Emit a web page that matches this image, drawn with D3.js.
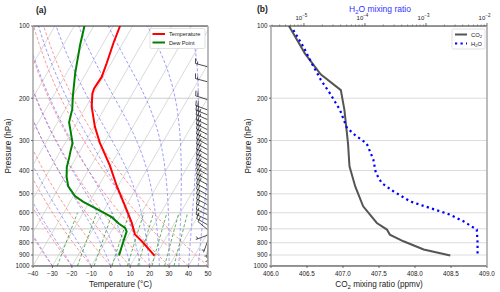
<!DOCTYPE html>
<html>
<head>
<meta charset="utf-8">
<script src="https://cdn.jsdelivr.net/npm/d3@7"></script>
<style>
  body { margin: 0; background: #fff; }
  svg text { font-family: "Liberation Sans", Arial, sans-serif; fill: #222; }
</style>
</head>
<body>
<svg id="chart" width="500" height="292"></svg>
<script>
// ---- data ----
const pressureTicks = [100, 200, 300, 400, 500, 600, 700, 800, 900, 1000];
const tempTicks = [-40, -30, -20, -10, 0, 10, 20, 30, 40, 50];
const co2Ticks = [406.0, 406.5, 407.0, 407.5, 408.0, 408.5, 409.0];
const h2oTicks = [1e-5, 1e-4, 1e-3, 1e-2];

// sounding (panel a)
const tempP = [100, 118, 143, 163, 182, 191, 217, 263, 308, 383, 464, 562, 660, 738, 800, 906];
const tempC = [-66.5, -64.8, -62.3, -60.8, -61.3, -60.7, -57.1, -49.5, -42, -30.1, -20.7, -10.5, -2.1, 3.0, 9.8, 19.4];
const dewP = [100, 120, 157, 197, 222, 252, 275, 308, 329, 351, 387, 425, 466, 511, 540, 582, 626, 667, 694, 718, 791, 904];
const dewC = [-84.8, -81.4, -75.6, -69.8, -66.4, -64.1, -60.6, -56.1, -55, -53.7, -52, -49.2, -45.5, -39.2, -33.2, -23.3, -14, -8.3, -3.9, -2.1, -0.8, 1.1];

// wind barbs (panel a): pressure, direction (deg), speed (kt)
const windP = [148, 171, 203, 224, 235, 246, 259, 271, 284, 298, 313, 328, 345, 362, 379, 398, 417, 438, 459, 482, 506, 531, 557, 584, 613, 643, 675, 708, 743, 780, 818, 858, 900];
const windDir = [285, 285, 288, 290, 292, 294, 295, 296, 297, 297, 298, 298, 298, 298, 298, 298, 298, 298, 298, 298, 298, 298, 298, 297, 296, 295, 300, 310, 250, 200, 185, 180, 175];
const windSpd = [15, 15, 20, 20, 25, 25, 25, 25, 25, 25, 25, 25, 25, 25, 25, 25, 25, 25, 25, 20, 20, 20, 20, 20, 15, 15, 10, 10, 5, 5, 5, 5, 5];

// background reference lines (panel a)
const dryAdiabatT0 = [-40, -30, -20, -10, 0, 10, 20, 30, 40, 50];
const moistAdiabatT0 = [-40, -30, -20, -10, 0, 5, 10, 15, 20, 25, 30, 35, 40, 45, 50];
const mixingRatios = [0.4, 1, 2, 4, 7, 10, 16, 24, 32]; // g/kg

// profiles (panel b)
const co2P = [100, 130, 159, 185, 224, 309, 384, 466, 564, 662, 705, 740, 789, 854, 905];
const co2Val = [406.25, 406.47, 406.69, 406.97, 407.02, 407.07, 407.09, 407.17, 407.28, 407.47, 407.61, 407.65, 407.84, 408.12, 408.49];
const h2oP = [104, 122, 143, 168, 191, 224, 264, 281, 309, 360, 410, 451, 488, 538, 573, 611, 651, 705, 802, 905];
const h2oVal = [6.7e-6, 9.8e-6, 1.34e-5, 1.9e-5, 2.67e-5, 3.9e-5, 5.0e-5, 6.4e-5, 1.07e-4, 1.37e-4, 1.51e-4, 1.88e-4, 2.91e-4, 5.5e-4, 1.16e-3, 2.47e-3, 4.1e-3, 6.8e-3, 7.0e-3, 7.0e-3];

// ---- layout ----
const plotTop = 26, plotBot = 266;
const aL = 33, aR = 208, bL = 271, bR = 487;
const skew = Math.tan(30 * Math.PI / 180);

const svg = d3.select("#chart");

const y = d3.scaleLog().domain([1000, 100]).range([plotBot, plotTop]);
const x = d3.scaleLinear().domain([-40, 50]).range([aL, aR]);
const sx = (t, p) => x(t) + skew * (plotBot - y(p));

svg.append("clipPath").attr("id", "clipA")
  .append("rect").attr("x", aL).attr("y", plotTop).attr("width", aR - aL).attr("height", plotBot - plotTop);
svg.append("clipPath").attr("id", "clipB")
  .append("rect").attr("x", bL).attr("y", plotTop).attr("width", bR - bL).attr("height", plotBot - plotTop);

// ================= panel (a) =================
const ga = svg.append("g").attr("clip-path", "url(#clipA)");

// horizontal grid
ga.selectAll("line.hgrid").data(pressureTicks).enter().append("line")
  .attr("x1", aL).attr("x2", aR).attr("y1", d => y(d)).attr("y2", d => y(d))
  .attr("stroke", "#c8c8c8").attr("stroke-width", 0.9);

// isotherms
ga.selectAll("line.iso").data(d3.range(-140, 51, 10)).enter().append("line")
  .attr("x1", d => sx(d, 1000)).attr("y1", plotBot)
  .attr("x2", d => sx(d, 100)).attr("y2", plotTop)
  .attr("stroke", "#c8c8c8").attr("stroke-width", 0.7);

const pLevels = d3.range(0, 61).map(i => 1000 * Math.pow(0.1, i / 60));
const lineP = d3.line().x(d => sx(d[0], d[1])).y(d => y(d[1]));

// dry adiabats
ga.selectAll("path.dry").data(dryAdiabatT0).enter().append("path")
  .attr("d", t0 => lineP(pLevels.map(p => [(t0 + 273.15) * Math.pow(p / 1000, 0.2857) - 273.15, p])))
  .attr("fill", "none").attr("stroke", "#ff7f7f").attr("stroke-width", 0.8)
  .attr("stroke-dasharray", "3,2");

// moist adiabats (integrate the saturated lapse rate)
const Rd = 287.04749, Cp = 1004.666, Lv = 2.50084e6, eps = 0.6219569;
function dTdp(p, T) {
  const tc = T - 273.15;
  const es = 6.112 * Math.exp(17.67 * tc / (tc + 243.5));
  const rs = eps * es / (p - es);
  return (Rd * T + Lv * rs) / (Cp + Lv * Lv * rs * eps / (Rd * T * T)) / p;
}
function moist(t0) {
  let T = t0 + 273.15, p = 1000, h = -5;
  const pts = [[t0, p]];
  while (p > 100) {
    const k1 = dTdp(p, T);
    const k2 = dTdp(p + h / 2, T + h / 2 * k1);
    const k3 = dTdp(p + h / 2, T + h / 2 * k2);
    const k4 = dTdp(p + h, T + h * k3);
    T += h / 6 * (k1 + 2 * k2 + 2 * k3 + k4);
    p += h;
    pts.push([T - 273.15, p]);
  }
  return pts;
}
ga.selectAll("path.moist").data(moistAdiabatT0).enter().append("path")
  .attr("d", t0 => lineP(moist(t0)))
  .attr("fill", "none").attr("stroke", "#7f7fff").attr("stroke-width", 0.8)
  .attr("stroke-dasharray", "3,2");

// mixing ratio lines
const mixP = d3.range(0, 21).map(i => 1000 - i * 20);
function dewFromW(w, p) {
  const e = p * w / (eps + w);
  const l = Math.log(e / 6.112);
  return 243.5 * l / (17.67 - l);
}
ga.selectAll("path.mix").data(mixingRatios).enter().append("path")
  .attr("d", w => lineP(mixP.map(p => [dewFromW(w / 1000, p), p])))
  .attr("fill", "none").attr("stroke", "#339933").attr("stroke-width", 0.8)
  .attr("stroke-dasharray", "3,2");

// temperature & dew point
ga.append("path").datum(d3.zip(tempC, tempP)).attr("d", lineP)
  .attr("fill", "none").attr("stroke", "#ff0000").attr("stroke-width", 2);
ga.append("path").datum(d3.zip(dewC, dewP)).attr("d", lineP)
  .attr("fill", "none").attr("stroke", "#008000").attr("stroke-width", 2);

// wind barbs anchored on the right edge
function barbPath(x0, y0, dir, spd) {
  const L = 13, F = 5, gap = 2.2;
  const r = dir * Math.PI / 180;
  const ux = Math.sin(r), uy = -Math.cos(r);
  const px = -uy, py = ux;
  const tx = x0 + L * ux, ty = y0 + L * uy;
  let s = `M${x0},${y0}L${tx},${ty}`;
  let rem = Math.round(spd / 5) * 5, pos = 0;
  if (rem === 5) pos = 1;
  while (rem >= 10) {
    const bx = tx - pos * gap * ux, by = ty - pos * gap * uy;
    s += `M${bx},${by}l${F * px + 0.25 * F * ux},${F * py + 0.25 * F * uy}`;
    rem -= 10; pos++;
  }
  if (rem >= 5) {
    const bx = tx - pos * gap * ux, by = ty - pos * gap * uy;
    s += `M${bx},${by}l${0.5 * F * px + 0.12 * F * ux},${0.5 * F * py + 0.12 * F * uy}`;
  }
  return s;
}
ga.selectAll("path.barb").data(windP).enter().append("path")
  .attr("d", (p, i) => barbPath(aR, y(p), windDir[i], windSpd[i]))
  .attr("fill", "none").attr("stroke", "#222").attr("stroke-width", 0.8);

// frame
function frame(x0, x1) {
  svg.append("line").attr("x1", x0).attr("x2", x1).attr("y1", plotTop).attr("y2", plotTop).attr("stroke", "#333").attr("stroke-width", 1);
  svg.append("line").attr("x1", x0).attr("x2", x1).attr("y1", plotBot).attr("y2", plotBot).attr("stroke", "#333").attr("stroke-width", 1);
  svg.append("line").attr("x1", x0).attr("x2", x0).attr("y1", plotTop).attr("y2", plotBot).attr("stroke", "#aaa").attr("stroke-width", 1.6);
  svg.append("line").attr("x1", x1).attr("x2", x1).attr("y1", plotTop).attr("y2", plotBot).attr("stroke", "#aaa").attr("stroke-width", 1.6);
}
frame(aL, aR);

function yTicks(x0) {
  const g = svg.append("g");
  g.selectAll("line").data(pressureTicks).enter().append("line")
    .attr("x1", x0 - 2).attr("x2", x0).attr("y1", d => y(d)).attr("y2", d => y(d))
    .attr("stroke", "#333").attr("stroke-width", 0.7);
  g.selectAll("text").data(pressureTicks).enter().append("text")
    .attr("x", x0 - 3.5).attr("y", d => y(d) + 2.3)
    .attr("text-anchor", "end").attr("font-size", 6.3).text(d => d);
}
yTicks(aL);

svg.append("g").selectAll("line").data(tempTicks).enter().append("line")
  .attr("x1", d => x(d)).attr("x2", d => x(d)).attr("y1", plotBot).attr("y2", plotBot + 2)
  .attr("stroke", "#333").attr("stroke-width", 0.7);
svg.append("g").selectAll("text").data(tempTicks).enter().append("text")
  .attr("x", d => x(d)).attr("y", 275.5).attr("text-anchor", "middle")
  .attr("font-size", 6.3).text(d => d < 0 ? "\u2212" + (-d) : d);

svg.append("text").attr("x", (aL + aR) / 2).attr("y", 286.5).attr("text-anchor", "middle")
  .attr("font-size", 8.2).text("Temperature (\u00b0C)");
svg.append("text").attr("transform", `translate(10.5,${(plotTop + plotBot) / 2}) rotate(-90)`)
  .attr("text-anchor", "middle").attr("font-size", 8.2).text("Pressure (hPa)");
svg.append("text").attr("x", 36).attr("y", 13).attr("font-size", 8.5).attr("font-weight", "bold").text("(a)");

// legend a
const la = svg.append("g");
la.append("rect").attr("x", 150).attr("y", 28.5).attr("width", 55).attr("height", 20).attr("rx", 1.5)
  .attr("fill", "#fff").attr("stroke", "#ccc").attr("stroke-width", 0.6);
la.append("line").attr("x1", 152.5).attr("x2", 165).attr("y1", 34).attr("y2", 34).attr("stroke", "#ff0000").attr("stroke-width", 2);
la.append("line").attr("x1", 152.5).attr("x2", 165).attr("y1", 42.5).attr("y2", 42.5).attr("stroke", "#008000").attr("stroke-width", 2);
la.append("text").attr("x", 169).attr("y", 36).attr("font-size", 5.6).text("Temperature");
la.append("text").attr("x", 169).attr("y", 44.5).attr("font-size", 5.6).text("Dew Point");

// ================= panel (b) =================
const xb = d3.scaleLinear().domain([406, 409]).range([bL, bR]);
const xt = d3.scaleLog().domain([Math.pow(10, -5.54), 1e-2]).range([bL, bR]);
const gb = svg.append("g").attr("clip-path", "url(#clipB)");

gb.selectAll("line.hgrid").data(pressureTicks).enter().append("line")
  .attr("x1", bL).attr("x2", bR).attr("y1", d => y(d)).attr("y2", d => y(d))
  .attr("stroke", "#d8d8d8").attr("stroke-width", 0.9);

gb.append("path").datum(d3.zip(co2Val, co2P))
  .attr("d", d3.line().x(d => xb(d[0])).y(d => y(d[1])))
  .attr("fill", "none").attr("stroke", "#555").attr("stroke-width", 2);
gb.append("path").datum(d3.zip(h2oVal, h2oP))
  .attr("d", d3.line().x(d => xt(d[0])).y(d => y(d[1])))
  .attr("fill", "none").attr("stroke", "#0000ff").attr("stroke-width", 2.2)
  .attr("stroke-dasharray", "2.2,3.3");

frame(bL, bR);
yTicks(bL);

svg.append("g").selectAll("line").data(co2Ticks).enter().append("line")
  .attr("x1", d => xb(d)).attr("x2", d => xb(d)).attr("y1", plotBot).attr("y2", plotBot + 2)
  .attr("stroke", "#333").attr("stroke-width", 0.7);
svg.append("g").selectAll("text").data(co2Ticks).enter().append("text")
  .attr("x", d => xb(d)).attr("y", 275.5).attr("text-anchor", "middle")
  .attr("font-size", 6.3).text(d => d.toFixed(1));

// top log axis
const minorTicks = [];
for (let e = -6; e < -2; e++) for (let m = 2; m <= 9; m++) {
  const v = m * Math.pow(10, e);
  if (v >= xt.domain()[0]) minorTicks.push(v);
}
svg.append("g").selectAll("line").data(minorTicks).enter().append("line")
  .attr("x1", d => xt(d)).attr("x2", d => xt(d)).attr("y1", plotTop).attr("y2", plotTop - 1.5)
  .attr("stroke", "#333").attr("stroke-width", 0.5);
svg.append("g").selectAll("line").data(h2oTicks).enter().append("line")
  .attr("x1", d => xt(d)).attr("x2", d => xt(d)).attr("y1", plotTop).attr("y2", plotTop - 3)
  .attr("stroke", "#333").attr("stroke-width", 0.7);
const tl = svg.append("g").selectAll("text").data(h2oTicks).enter().append("text")
  .attr("x", d => xt(d) - 2.5).attr("y", 20).attr("text-anchor", "middle").attr("font-size", 6);
tl.append("tspan").text("10");
tl.append("tspan").attr("dy", -3).attr("font-size", 4.5).text(d => "\u2212" + (-Math.round(Math.log10(d))));

const title = svg.append("text").attr("x", 380).attr("y", 12).attr("text-anchor", "middle")
  .attr("font-size", 8.5).style("fill", "#3333ff");
title.append("tspan").text("H");
title.append("tspan").attr("dy", 2).attr("font-size", 6).text("2");
title.append("tspan").attr("dy", -2).text("O mixing ratio");

const xl = svg.append("text").attr("x", (bL + bR) / 2).attr("y", 286.5).attr("text-anchor", "middle").attr("font-size", 8.2);
xl.append("tspan").text("CO");
xl.append("tspan").attr("dy", 2).attr("font-size", 6).text("2");
xl.append("tspan").attr("dy", -2).text(" mixing ratio (ppmv)");

svg.append("text").attr("transform", `translate(250.5,${(plotTop + plotBot) / 2}) rotate(-90)`)
  .attr("text-anchor", "middle").attr("font-size", 8.2).text("Pressure (hPa)");
svg.append("text").attr("x", 257).attr("y", 12).attr("font-size", 8.5).attr("font-weight", "bold").text("(b)");

// legend b
const lb = svg.append("g");
lb.append("rect").attr("x", 452).attr("y", 29).attr("width", 33).attr("height", 20).attr("rx", 1.5)
  .attr("fill", "#fff").attr("stroke", "#ccc").attr("stroke-width", 0.6);
lb.append("line").attr("x1", 455).attr("x2", 467).attr("y1", 34.5).attr("y2", 34.5).attr("stroke", "#555").attr("stroke-width", 2);
lb.append("line").attr("x1", 455).attr("x2", 467).attr("y1", 43.5).attr("y2", 43.5).attr("stroke", "#0000ff").attr("stroke-width", 2.2).attr("stroke-dasharray", "2.2,3.3");
const t1 = lb.append("text").attr("x", 471).attr("y", 36.5).attr("font-size", 5.8);
t1.append("tspan").text("CO");
t1.append("tspan").attr("dy", 1.5).attr("font-size", 4.2).text("2");
const t2 = lb.append("text").attr("x", 471).attr("y", 45.5).attr("font-size", 5.8);
t2.append("tspan").text("H");
t2.append("tspan").attr("dy", 1.5).attr("font-size", 4.2).text("2");
t2.append("tspan").attr("dy", -1.5).text("O");
</script>
</body>
</html>
